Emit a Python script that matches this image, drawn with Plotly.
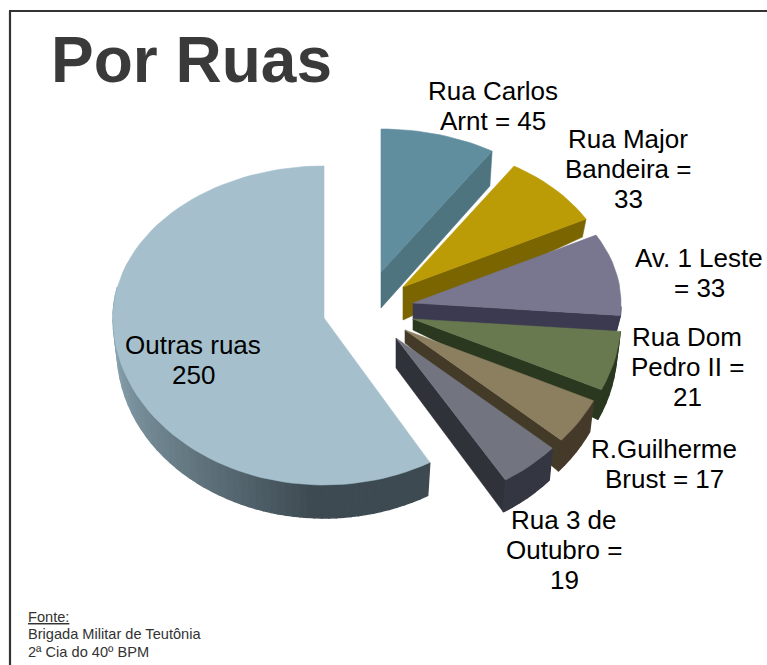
import math
import plotly.graph_objects as go

# ---- data -------------------------------------------------------------
categories = ["Rua Carlos Arnt", "Rua Major Bandeira", "Av. 1 Leste", "Rua Dom Pedro II",
              "R.Guilherme Brust", "Rua 3 de Outubro", "Outras ruas"]
values = [45, 33, 33, 21, 17, 19, 250]
labels = ["Rua Carlos<br>Arnt = 45", "Rua Major<br>Bandeira =<br>33", "Av. 1 Leste<br>= 33",
          "Rua Dom<br>Pedro II =<br>21", "R.Guilherme<br>Brust = 17", "Rua 3 de<br>Outubro =<br>19",
          "Outras ruas<br>250"]

# ---- style ------------------------------------------------------------
top_col = ["#618e9f", "#bb9c07", "#79768f", "#68794f", "#8c7f5f", "#72757f", "#a5c0cc"]
cut_col = ["#4e7480", "#7a6500", "#3c3a50", "#2a3820", "#443a28", "#30323a", "#3d4a52"]
rim_col = ["#4e7480", "#7a6500", "#3c3a50", "#2a3820", "#453a2a", "#343741", "#3d4a52"]
apex_x = [381, 403, 413, 413, 405, 396, 324]
apex_y = [272, 287, 303, 319, 330, 338, 318]
depth_apex = [36, 33, 17, 11, 13, 30, 33]
depth_rim = [35, 18, 16, 30, 31, 32, 33]
radius_x = [208, 208, 208, 208, 208, 208, 211]
radius_up = [143, 143, 143, 143, 143, 143, 152]
start_pad = [0, 0, 0, 0, 0, 0, 1.7]
label_x = [493, 628, 699, 687, 664, 564, 193]
label_y = [91, 139, 258, 337, 449, 520, 345]
RY_DOWN = 167
LINE = 30
W, H = 767, 665


def warp(t):
    r = math.radians(t)
    return t - 6.5 * math.sin(2 * r) - 3.5 * math.exp(-((t - 120) / 45) ** 2)


def rim(t, i, depth=0):
    p = math.radians(warp(t))
    ry = radius_up[i] if math.cos(p) > 0 else RY_DOWN
    k = 1 - 0.02 * (depth > 0)
    return apex_x[i] + radius_x[i] * k * math.sin(p), apex_y[i] - ry * math.cos(p) + depth


def mix(a, b, f):
    ca = [int(a[j:j + 2], 16) for j in (1, 3, 5)]
    cb = [int(b[j:j + 2], 16) for j in (1, 3, 5)]
    return "#%02x%02x%02x" % tuple(round(x + (y - x) * f) for x, y in zip(ca, cb))


fig = go.Figure()


def poly(xs, ys, color, name="", lw=0.6):
    fig.add_trace(go.Scatter(x=xs + xs[:1], y=ys + ys[:1], mode="lines", fill="toself",
                             fillcolor=color, line=dict(color=color, width=lw),
                             hoverinfo="skip" if not name else "text", text=name,
                             showlegend=False))


total = sum(values)
starts = []
acc = 0
for v in values:
    starts.append(acc)
    acc += v * 360 / total

for i in [6, 0, 1, 2, 3, 4, 5]:
    t0 = starts[i] + start_pad[i]
    t1 = starts[i] + values[i] * 360 / total
    n = max(6, int((t1 - t0) / 2.5))
    ts = [t0 + (t1 - t0) * k / n for k in range(n + 1)]
    ax, ay = apex_x[i], apex_y[i]
    dr = depth_rim[i]
    # cut face along the clockwise edge
    cx, cy = rim(t1, i)
    bx, by = rim(t1, i, dr)
    if i != 6:
        poly([ax, cx, bx, ax], [ay, cy, by, ay + depth_apex[i]], cut_col[i])
    # outer wall, only its front part shows
    for a, b in zip(ts[:-1], ts[1:]):
        mid = (a + b) / 2
        if 90 < warp(mid) < 282:
            col = rim_col[i]
            if i == 6:
                col = mix("#3d4a52", "#8ba6b2", max(0, min(1, (mid - 185) / 85)))
            xa, ya = rim(a, i)
            xb, yb = rim(b, i)
            xc, yc = rim(b, i, dr)
            xd, yd = rim(a, i, dr)
            poly([xa, xb, xc, xd], [ya, yb, yc, yd], col, lw=1.4)
    # top face
    pts = [rim(t, i) for t in ts]
    poly([ax] + [p[0] for p in pts], [ay] + [p[1] for p in pts], top_col[i],
         f"{categories[i]}: {values[i]}")

ann = []
for text, x, y in zip(labels, label_x, label_y):
    for j, line in enumerate(text.split("<br>")):
        ann.append(dict(x=x, y=y + j * LINE, text=line, showarrow=False, xanchor="center",
                        yanchor="middle", font=dict(size=26, color="#000000")))
ann.append(dict(x=49, y=60, text="<b>Por Ruas</b>", showarrow=False, xanchor="left", yanchor="middle",
                font=dict(size=64, color="#3a3a3a")))
for y, t in [(617, "<u>Fonte:</u>"), (634, "Brigada Militar de Teutônia"), (652, "2ª Cia do 40º BPM")]:
    ann.append(dict(x=26, y=y, text=t, showarrow=False, xanchor="left", yanchor="middle",
                    font=dict(size=14.6, color="#333333")))

fig.update_layout(
    width=W, height=H, margin=dict(l=0, r=0, t=0, b=0), autosize=False,
    paper_bgcolor="white", plot_bgcolor="white", showlegend=False,
    font=dict(family="Liberation Sans, Arial, sans-serif"),
    xaxis=dict(range=[0, W], visible=False, fixedrange=True),
    yaxis=dict(range=[H, 0], visible=False, fixedrange=True),
    annotations=ann,
    shapes=[dict(type="line", x0=10, x1=10, y0=11, y1=H, line=dict(color="#333333", width=2.2)),
            dict(type="line", x0=9, x1=W, y0=11, y1=11, line=dict(color="#333333", width=2.2))],
)
fig.write_html("out.html", config=dict(displayModeBar=False),
               post_script="document.body.style.margin='0';document.documentElement.style.overflow='hidden';")
